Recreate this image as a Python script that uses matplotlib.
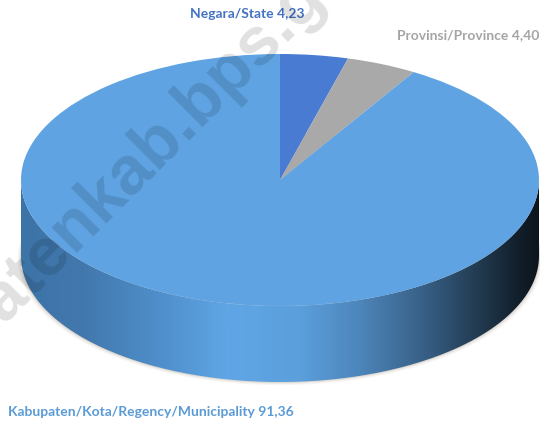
import numpy as np
import matplotlib.pyplot as plt
from matplotlib.colors import LinearSegmentedColormap
from matplotlib.patches import Ellipse, PathPatch
from matplotlib.path import Path

# Values and labels
names = ["Negara/State", "Provinsi/Province", "Kabupaten/Kota/Regency/Municipality"]
values = [4.23, 4.40, 91.36]
top_colors = ["#4a7bd3", "#a9a9a9", "#5fa3e2"]
label_colors = ["#4472c4", "#a5a5a5", "#5b9bd5"]
value_text = ["4,23", "4,40", "91,36"]

W, H = 540, 421
cx, cy = 280, 180     # centre of top ellipse (px)
rx, ry = 259, 126     # radii (px)
depth = 76 / ry       # side wall height in data units

plt.rcParams['font.family'] = ['Lato', 'DejaVu Sans']

fig = plt.figure(figsize=(W / 100, H / 100), dpi=100)
ax = fig.add_axes([0, 0, 1, 1])

wedges, _ = ax.pie(values, colors=top_colors, startangle=90, counterclock=False,
                   wedgeprops=dict(linewidth=0, zorder=5))
ax.set_aspect('auto')
ax.set_xlim(-cx / rx, (W - cx) / rx)
ax.set_ylim(-(H - cy) / ry, cy / ry)
ax.axis('off')

# outline of the side wall: lower half of the top, lower half of the bottom
a = np.linspace(np.pi, 2 * np.pi, 200)
xs = np.concatenate([np.cos(a), np.cos(a[::-1])])
ys = np.concatenate([np.sin(a) - depth, np.sin(a[::-1])])
wall = Path(np.column_stack([xs, ys]), closed=False)

# soft shadow under the wall
for off, alpha in [(0.025, 0.05), (0.015, 0.08), (0.007, 0.12)]:
    ax.add_patch(Ellipse((0, -depth - off), 2 + off, 2, color="#6b5a40", alpha=alpha,
                         linewidth=0, zorder=1))

# horizontal gradient of the side wall
stops = [(0.0, "#3d74a8"), (0.12, "#4278ad"), (0.27, "#4f8fcb"), (0.40, "#60a6e6"),
         (0.54, "#5b9fdc"), (0.66, "#4c84b8"), (0.78, "#375f85"), (0.90, "#1f3549"),
         (0.97, "#101c27"), (1.0, "#0c141b")]
cmap = LinearSegmentedColormap.from_list("wall", stops)
img = ax.imshow(np.linspace(0, 1, 512)[None, :], cmap=cmap, aspect='auto', zorder=2,
                extent=[-1, 1, -1 - depth, 0])
ax.set_xlim(-cx / rx, (W - cx) / rx)
ax.set_ylim(-(H - cy) / ry, cy / ry)
clip = PathPatch(wall, transform=ax.transData, facecolor='none', edgecolor='none')
ax.add_patch(clip)
img.set_clip_path(clip)

# labels
fig.text(190 / W, 1 - 14 / H, f"{names[0]} {value_text[0]}", color=label_colors[0],
         fontsize=10, fontweight='bold', va='center', ha='left')
fig.text(397 / W, 1 - 35 / H, f"{names[1]} {value_text[1]}", color=label_colors[1],
         fontsize=10, fontweight='bold', va='center', ha='left')
fig.text(8 / W, 1 - 412 / H, f"{names[2]} {value_text[2]}", color=label_colors[2],
         fontsize=10, fontweight='bold', va='center', ha='left')

# watermark, runs off the picture like in the reference
fig.text(4 / W, 1 - 324 / H, "atenkab.bps.go", color="black", alpha=0.12,
         family=['Liberation Sans'], fontsize=49, fontweight='bold', rotation=45,
         rotation_mode='anchor', ha='left', va='baseline', zorder=10)

fig.savefig("out.png", dpi=100)
